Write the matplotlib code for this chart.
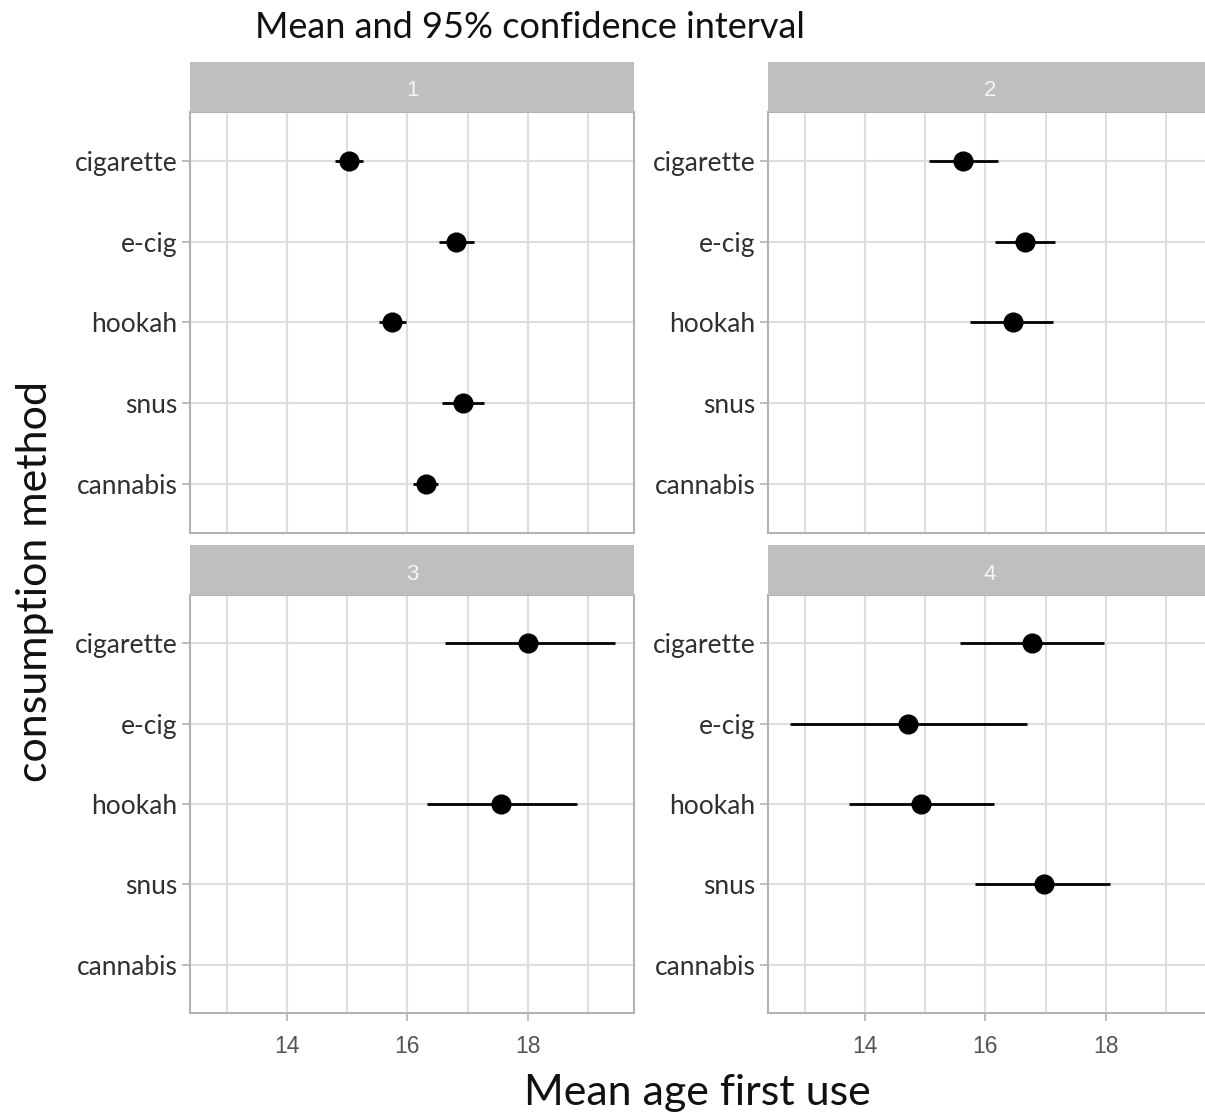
import matplotlib
matplotlib.use("Agg")
import matplotlib.pyplot as plt
import numpy as np

W, H = 1205, 1118

## Data
methods = ['cigarette', 'e-cig', 'hookah', 'snus', 'cannabis']
groups  = ['1', '2', '3', '4']

# mean age of first use per group, None where there is no estimate
mean_1 = [15.03, 16.81, 15.74, 16.92, 16.30]
low_1  = [14.80, 16.52, 15.53, 16.57, 16.09]
high_1 = [15.26, 17.11, 15.97, 17.27, 16.50]

mean_2 = [15.63, 16.65, 16.45, None, None]
low_2  = [15.06, 16.15, 15.75, None, None]
high_2 = [16.21, 17.15, 17.12, None, None]

mean_3 = [18.00, None, 17.56, None, None]
low_3  = [16.63, None, 16.32, None, None]
high_3 = [19.44, None, 18.81, None, None]

mean_4 = [16.77, 14.72, 14.93, 16.97, None]
low_4  = [15.57, 12.75, 13.73, 15.82, None]
high_4 = [17.97, 16.69, 16.14, 18.07, None]

means = [mean_1, mean_2, mean_3, mean_4]
lows  = [low_1, low_2, low_3, low_4]
highs = [high_1, high_2, high_3, high_4]

## Style
grid_col   = '#DEDEDE'
border_col = '#B3B3B3'
strip_col  = '#BFBFBF'
label_font = 'Lato'
tick_font  = 'Liberation Sans'

# panel boxes in pixels: left, top, right, bottom ; strip height
panels = [(190, 112, 634, 533), (768, 112, 1212, 533),
          (190, 595, 634, 1013), (768, 595, 1212, 1013)]
strip_h = 50

fig = plt.figure(figsize=(W/100, H/100), dpi=100)

ypos = np.arange(len(methods))[::-1] + 1   # cigarette at top

for i, (l, t, r, b) in enumerate(panels):
    ax = fig.add_axes([l/W, (H-b)/H, (r-l)/W, (b-t)/H])
    ax.set_xlim(12.39, 19.76)
    ax.set_ylim(0.4, 5.6)
    ax.set_xticks([14, 16, 18])
    ax.set_xticks([13, 15, 17, 19], minor=True)
    ax.set_yticks(ypos)
    ax.set_yticklabels(methods, fontfamily=label_font, fontsize=19, color='#303030')
    ax.grid(True, which='both', color=grid_col, linewidth=1.5)
    ax.set_axisbelow(True)
    for s in ax.spines.values():
        s.set_color(border_col)
        s.set_linewidth(1.5)
    ax.tick_params(axis='both', which='major', color=border_col, length=6, width=1.2)
    ax.tick_params(axis='x', which='minor', length=0)
    ax.tick_params(axis='y', pad=3)
    if i >= 2:
        ax.tick_params(axis='x', labelsize=16.5, labelcolor='#555555', pad=10)
        for lab in ax.get_xticklabels():
            lab.set_fontfamily(tick_font)
    else:
        ax.tick_params(axis='x', which='major', length=0, labelbottom=False)

    for k in range(len(methods)):
        m = means[i][k]
        if m is None:
            continue
        ax.plot([lows[i][k], highs[i][k]], [ypos[k], ypos[k]], color='black',
                linewidth=2.0, solid_capstyle='butt', zorder=3)
        ax.plot(m, ypos[k], 'o', color='black', markersize=13.5, zorder=4)

    # facet strip
    sax = fig.add_axes([l/W, (H-t)/H, (r-l)/W, strip_h/H])
    sax.set_facecolor(strip_col)
    sax.set_xticks([])
    sax.set_yticks([])
    for s in sax.spines.values():
        s.set_visible(False)
    sax.text(0.5, 0.42, groups[i], ha='center', va='center', color='#F5F5F5',
             fontsize=16, fontfamily=tick_font, transform=sax.transAxes)

fig.text(255/W, 1-28/H, 'Mean and 95% confidence interval', ha='left', va='center',
         fontsize=26, fontfamily=label_font, color='#111111')
fig.text(697/W, 1-1093/H, 'Mean age first use', ha='center', va='center',
         fontsize=31, fontfamily=label_font, color='#111111')
fig.text(35/W, 1-581/H, 'consumption method', ha='center', va='center', rotation=90,
         fontsize=31, fontfamily=label_font, color='#111111')

fig.savefig('out.png', dpi=100, facecolor='white')
